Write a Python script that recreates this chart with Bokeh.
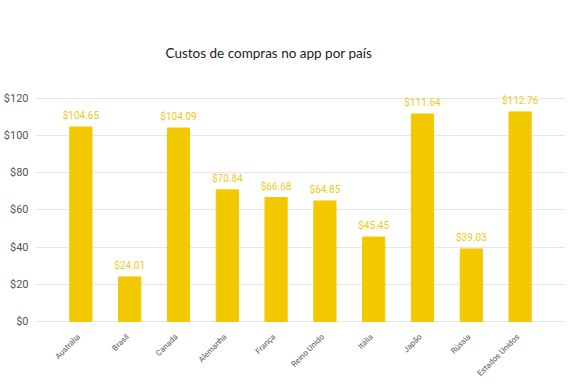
from bokeh.plotting import figure
from bokeh.models import ColumnDataSource, FactorRange, Range1d, NumeralTickFormatter, FixedTicker, Title, LabelSet
from bokeh.core.properties import value
from bokeh.embed import file_html
from bokeh.resources import INLINE
import math

countries = ["Austrália", "Brasil", "Canadá", "Alemanha", "França", "Reino Unido",
             "Itália", "Japão", "Rússia", "Estados Unidos"]
costs = [104.65, 24.01, 104.09, 70.84, 66.68, 64.85, 45.45, 111.64, 39.03, 112.76]
y_ticks = [0, 20, 40, 60, 80, 100, 120]
title_text = "Custos de compras no app por país"

labels = ["${:.2f}".format(v) for v in costs]
src = ColumnDataSource(dict(x=countries, top=costs, label=labels, base=[0] * len(costs)))

BAR = "#f2c800"
# the frame runs below zero so the rotated category labels sit inside it
p = figure(width=565, height=377, output_backend="svg", toolbar_location=None,
           x_range=FactorRange(factors=countries, range_padding=0.43, range_padding_units="absolute"),
           y_range=Range1d(-30.1, 123.2),
           min_border_left=27, min_border_right=0, min_border_top=92, min_border_bottom=0)
p.outline_line_color = None

p.vbar(x="x", top="top", width=0.455, source=src, color=BAR)
p.add_layout(LabelSet(x="x", y="top", text="label", source=src, text_align="center",
                      text_baseline="bottom", y_offset=6, text_font=value("Roboto"),
                      text_font_size="10px", text_color="#f0c81a"))

# category labels under the bars, rotated like the reference
p.add_layout(LabelSet(x="x", y="base", text="x", source=src, text_align="right",
                      text_baseline="middle", angle=math.pi / 4, x_offset=-2, y_offset=-14,
                      text_font=value("Roboto"), text_font_size="8px", text_color="#555555"))

t = Title(text=title_text, align="left", offset=130, text_font="Lato", text_font_size="13.5px",
          text_font_style="normal", text_color="#222222", standoff=63)
p.add_layout(t, "above")

p.yaxis.ticker = FixedTicker(ticks=y_ticks)
p.yaxis.formatter = NumeralTickFormatter(format="$0")
p.yaxis.axis_line_color = None
p.yaxis.major_tick_line_color = None
p.yaxis.minor_tick_line_color = None
p.yaxis.major_tick_out = 0
p.yaxis.major_tick_in = 0
p.yaxis.major_label_text_font = "Roboto"
p.yaxis.major_label_text_font_size = "11px"
p.yaxis.major_label_text_color = "#555555"
p.yaxis.major_label_standoff = 7

p.xaxis.visible = False

p.xgrid.grid_line_color = None
p.ygrid.grid_line_color = "#e6e6e6"
p.ygrid.ticker = FixedTicker(ticks=y_ticks)

open("out.html", "w").write(file_html(p, INLINE))
